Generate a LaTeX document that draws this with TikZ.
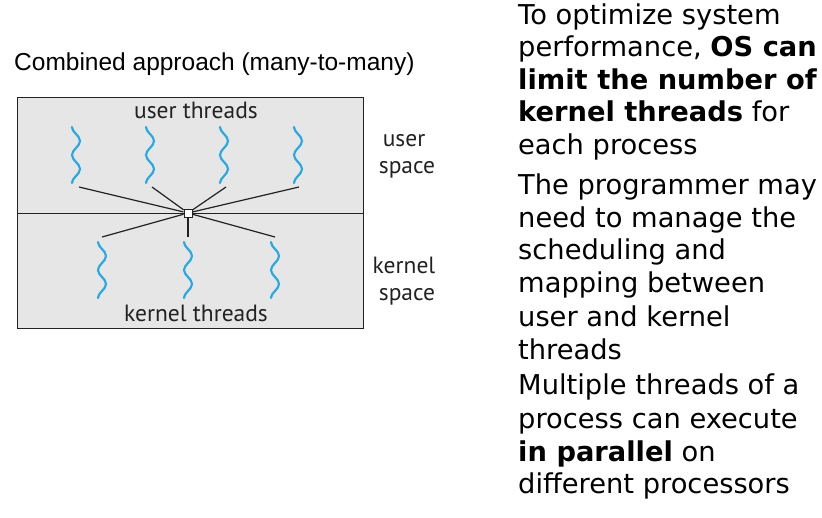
\documentclass[tikz,border=0pt]{standalone}
\usepackage{fontspec}
\newfontfamily\dv{DejaVu Sans}
\newfontfamily\ls{Liberation Sans}
\newfontfamily\pts{PT Sans}
\definecolor{wave}{HTML}{29A9E1}
\definecolor{boxfill}{HTML}{E6E6E6}
\definecolor{ink}{HTML}{222222}
\begin{document}
\begin{tikzpicture}[x=1pt,y=-1pt,
  body/.style={anchor=base west,inner sep=0pt,font=\dv\fontsize{27.3}{33}\selectfont},
  lbl/.style={anchor=base,inner sep=0pt,font=\pts\fontsize{23.5}{28}\selectfont,text=ink},
  wavy/.style={draw=wave,line width=2.2pt,line cap=round},
  link/.style={draw=ink,line width=1.2pt},
  hubbox/.style={draw=ink,fill=white,minimum size=8pt,inner sep=0pt,line width=0.9pt},
  wave/.pic={\draw[wavy] plot[smooth] coordinates {(-4,0) (-2.83,3.5) (0,7) (2.83,10.5) (4,14) (2.83,17.5) (0,21) (-2.83,24.5) (-4,28) (-2.83,31.5) (0,35) (2.83,38.5) (4,42) (2.83,45.5) (0,49) (-2.83,52.5) (-4,56)};}]
\useasboundingbox (0,0) rectangle (822,517);
% title
\node[anchor=base west,inner sep=0pt,font=\ls\fontsize{24.5}{29}\selectfont] (title) at (14,70) {Combined approach (many-to-many)};
% box
\node[draw=ink,fill=boxfill,line width=1.3pt,minimum width=346pt,minimum height=231pt,anchor=north west,inner sep=0pt] (box) at (17,97) {};
\draw[link] (box.west) -- (box.east);
% user thread waves
\pic at (76,127) {wave};
\pic at (150,127) {wave};
\pic at (224,127) {wave};
\pic at (298,127) {wave};
\coordinate (u1) at (79,187);
\coordinate (u2) at (152,187);
\coordinate (u3) at (226,187);
\coordinate (u4) at (299,187);
% kernel thread waves
\pic at (102,242) {wave};
\pic at (188,242) {wave};
\pic at (275,242) {wave};
\coordinate (k1) at (102,237);
\coordinate (k2) at (188,237);
\coordinate (k3) at (275,237);
% hub
\node[hubbox] (hub) at (188,213) {};
\draw[link] (hub) -- (u1);
\draw[link] (hub) -- (u2);
\draw[link] (hub) -- (u3);
\draw[link] (hub) -- (u4);
\draw[link] (hub) -- (k1);
\draw[link] (hub) -- (k2);
\draw[link] (hub) -- (k3);
\node[hubbox] (hubtop) at (hub) {};
% labels
\node[lbl] (ut) at (196,118) {user threads};
\node[lbl] (kt) at (196,321) {kernel threads};
\node[lbl] (us1) at (404,146) {user};
\node[lbl] (us2) at (407,173) {space};
\node[lbl] (ks1) at (404,273) {kernel};
\node[lbl] (ks2) at (407,300) {space};
% right text
\node[body] (p1a) at (518,24.5) {To optimize system};
\node[body] (p1b) at (518,56.5) {performance, \textbf{OS can}};
\node[body] (p1c) at (518,89.5) {\textbf{limit the number of}};
\node[body] (p1d) at (518,121.5) {\textbf{kernel threads} for};
\node[body] (p1e) at (518,154.5) {each process};
\node[body] (p2a) at (518,194.5) {The programmer may};
\node[body] (p2b) at (518,227.5) {need to manage the};
\node[body] (p2c) at (518,259.5) {scheduling and};
\node[body] (p2d) at (518,292.5) {mapping between};
\node[body] (p2e) at (518,326.5) {user and kernel};
\node[body] (p2f) at (518,359.5) {threads};
\node[body] (p3a) at (518,394.5) {Multiple threads of a};
\node[body] (p3b) at (518,428.5) {process can execute};
\node[body] (p3c) at (518,461.5) {\textbf{in parallel} on};
\node[body] (p3d) at (518,493.5) {different processors};
\end{tikzpicture}
\end{document}
